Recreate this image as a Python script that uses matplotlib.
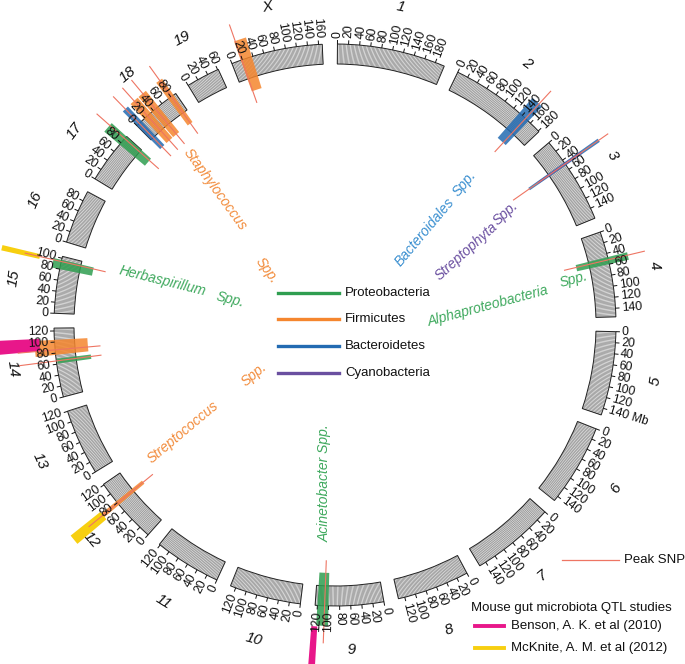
import numpy as np
import matplotlib
matplotlib.use("Agg")
import matplotlib.pyplot as plt
from matplotlib.lines import Line2D

plt.rcParams['font.family'] = ['Liberation Sans', 'DejaVu Sans']

# ---------------- data ----------------
CHROMS = ['1', '2', '3', '4', '5', '6', '7', '8', '9', '10',
          '11', '12', '13', '14', '15', '16', '17', '18', '19', 'X']
CHROM_LEN = [197.2, 181.7, 159.6, 155.6, 152.5, 149.5, 152.5, 131.7, 124.1, 130.0,
             121.8, 121.3, 120.3, 125.2, 103.5, 98.3, 95.3, 90.8, 61.3, 166.7]
TICK_STEP = 20
UNIT_CHROM = '5'
UNIT_LABEL = 'Mb'

PHYLA = ['Proteobacteria', 'Firmicutes', 'Bacteroidetes', 'Cyanobacteria']

# QTL intervals (Mb) coloured by phylum
QTL_CHROM = ['2', '3', '3', '4', '9', '12', '14', '14', '15', '17', '18', '18', '18', '18', 'X']
QTL_START = [133, 45, 46, 47, 100, 75, 77, 61, 80, 76, 0, 18, 36, 74, 17]
QTL_END = [155, 51, 50, 60, 120, 83, 104, 70, 97, 95, 12, 34, 52, 86, 38]
QTL_PHYLUM = ['Bacteroidetes', 'Bacteroidetes', 'Cyanobacteria', 'Proteobacteria',
              'Proteobacteria', 'Firmicutes', 'Firmicutes', 'Proteobacteria',
              'Proteobacteria', 'Proteobacteria', 'Bacteroidetes', 'Firmicutes',
              'Firmicutes', 'Firmicutes', 'Firmicutes']
QTL_TRACK = ['std', 'long', 'std', 'std', 'std', 'std', 'std', 'short', 'mid', 'std',
             'std', 'std', 'std', 'std', 'std']

# peak SNPs (Mb)
PEAK_CHROM = ['2', '3', '4', '9', '12', '14', '14', '15', '17', '18', '18', '18', '18', 'X']
PEAK_POS = [148, 48, 52, 107, 79, 66, 86, 94, 90, 6, 26, 45, 81, 19]
PEAK_TRACK = ['std', 'long', 'std', 'std', 'std', 'std', 'std', 'std', 'std', 'std',
              'std', 'std', 'std', 'std']

# previous mouse gut microbiota QTL studies
STUDY_NAMES = ['Benson, A. K. et al (2010)', 'McKnite, A. M. et al (2012)']
STUDY_CHROM = ['9', '14', '12', '15']
STUDY_START = [118, 86, 70, 90]
STUDY_END = [128, 107, 86, 98]
STUDY_ID = [0, 0, 1, 1]

# taxa associated with the QTLs
TAXA = ['Bacteroidales', 'Streptophyta', 'Alphaproteobacteria', 'Acinetobacter',
        'Streptococcus', 'Herbaspirillum', 'Staphylococcus']
TAXA_PHYLUM = ['Bacteroidetes', 'Cyanobacteria', 'Proteobacteria', 'Proteobacteria',
               'Firmicutes', 'Proteobacteria', 'Firmicutes']
SPP = 'Spp.'

# ---------------- style / layout ----------------
PHYLUM_COLOR = {'Proteobacteria': '#2f9e50', 'Firmicutes': '#f5862e',
                'Bacteroidetes': '#236bb2', 'Cyanobacteria': '#6a4fa0'}
TAXA_TEXT_COLOR = {'Proteobacteria': '#3fa95e', 'Firmicutes': '#f28c3c',
                   'Bacteroidetes': '#3a8fd0', 'Cyanobacteria': '#6a4fa0'}
STUDY_COLOR = ['#e8178a', '#f7cf10']
PEAK_COLOR = '#ee7563'

W, H = 685, 664
CX, CY, RMAX = 335, 325, 350
R_IN, R_OUT = 261, 281
TRACKS = {'std': (248, 301), 'long': (237, 322), 'short': (246, 280), 'mid': (248, 289)}
PEAK_TRACKS = {'std': (236, 318), 'long': (218, 333)}
STUDY_TRACKS = {('9', 0): (302, 352), ('14', 0): (296, 352), ('12', 1): (300, 338), ('15', 1): (303, 342)}
K = 0.1135      # degrees per Mb
GAP = 3.02      # degrees between chromosomes
START0 = 0.5
TEXTURE_STEP = 2.4  # Mb between drawn ideogram band lines (visual texture only)

# (theta, r, rotation, spp_theta, spp_r) for taxa labels
TAXA_LAYOUT = [(44.1, 129, 50, 42.5, 192),
               (60.7, 151, 42, 56.8, 204),
               (82.9, 154, 15, 79.3, 243),
               (183.6, 158, 90, None, None),
               (234.9, 186, 40, 238.3, 95),
               (284.3, 178, -14, 283.4, 108),
               (318.6, 181, -54, 308.6, 88)]

starts = {}
s = START0
for c, L in zip(CHROMS, CHROM_LEN):
    starts[c] = s
    s += L * K + GAP
lens = dict(zip(CHROMS, CHROM_LEN))


def th(c, pos):
    return starts[c] + pos * K


def rad(d):
    return np.deg2rad(d)


fig = plt.figure(figsize=(W / 100, H / 100), dpi=100)
ax = fig.add_axes([(CX - RMAX) / W, (H - CY - RMAX) / H, 2 * RMAX / W, 2 * RMAX / H],
                  projection='polar')
ax.set_theta_zero_location('N')
ax.set_theta_direction(-1)
ax.set_ylim(0, RMAX)
ax.set_axis_off()

# ideograms
for c in CHROMS:
    L = lens[c]
    ax.bar(rad(th(c, L / 2)), R_OUT - R_IN, width=rad(L * K), bottom=R_IN,
           color='#e4e4e4', edgecolor='none', zorder=1)
    marks = np.arange(0.9, L, TEXTURE_STEP)
    ax.vlines(rad(th(c, marks)), R_IN, R_OUT, colors='#5c5c5c', lw=0.3, zorder=1.5)
    ax.bar(rad(th(c, L / 2)), R_OUT - R_IN, width=rad(L * K), bottom=R_IN,
           color='none', edgecolor='#222222', lw=0.7, zorder=2)

# QTL bars
for c, a, b, p, t in zip(QTL_CHROM, QTL_START, QTL_END, QTL_PHYLUM, QTL_TRACK):
    r0, r1 = TRACKS[t]
    ax.bar(rad(th(c, (a + b) / 2)), r1 - r0, width=rad((b - a) * K), bottom=r0,
           color=PHYLUM_COLOR[p], alpha=0.85, edgecolor='none', zorder=3)

# peak SNP lines
for c, p, t in zip(PEAK_CHROM, PEAK_POS, PEAK_TRACK):
    r0, r1 = PEAK_TRACKS[t]
    ax.plot([rad(th(c, p))] * 2, [r0, r1], color=PEAK_COLOR, lw=0.8, zorder=4)

# previous studies
for c, a, b, i in zip(STUDY_CHROM, STUDY_START, STUDY_END, STUDY_ID):
    r0, r1 = STUDY_TRACKS[(c, i)]
    ax.bar(rad(th(c, (a + b) / 2)), r1 - r0, width=rad((b - a) * K), bottom=r0,
           color=STUDY_COLOR[i], edgecolor='none', zorder=3.5, clip_on=False)

# ticks and labels
for c in CHROMS:
    L = lens[c]
    ticks = np.arange(0, L + 0.01, TICK_STEP)
    ax.vlines(rad(th(c, ticks)), R_OUT, R_OUT + 4, colors='#111111', lw=0.7, zorder=5)
    for i, p in enumerate(ticks):
        d = th(c, p) % 360
        lab = str(int(p))
        if c == UNIT_CHROM and i == len(ticks) - 1:
            lab += ' ' + UNIT_LABEL
        if d < 180:
            rot, ha = 90 - d, 'left'
        else:
            rot, ha = 270 - d, 'right'
        ax.text(rad(d), R_OUT + 6, lab, rotation=rot, rotation_mode='anchor',
                ha=ha, va='center', fontsize=8.7, color='#111111', zorder=6)
    dm = th(c, L / 2) % 360
    rot = -dm if (dm < 90 or dm >= 270) else 180 - dm
    ax.text(rad(dm), 325, c, rotation=rot, rotation_mode='anchor', ha='center',
            va='center', fontsize=11, style='italic', color='#111111')

# taxa labels
for name, p, (t, r, rot, ts, rs) in zip(TAXA, TAXA_PHYLUM, TAXA_LAYOUT):
    col = TAXA_TEXT_COLOR[p]
    if ts is None:
        ax.text(rad(t), r, name + ' ' + SPP, rotation=rot, rotation_mode='anchor',
                ha='center', va='center', fontsize=10, style='italic', color=col)
    else:
        ax.text(rad(t), r, name, rotation=rot, rotation_mode='anchor',
                ha='center', va='center', fontsize=10, style='italic', color=col)
        ax.text(rad(ts), rs, SPP, rotation=rot, rotation_mode='anchor',
                ha='center', va='center', fontsize=10, style='italic', color=col)


def fx(x):
    return x / W


def fy(y):
    return 1 - y / H


# centre legend
for k, (p, y) in enumerate(zip(PHYLA, [293, 319, 346, 373])):
    fig.add_artist(Line2D([fx(278), fx(339)], [fy(y), fy(y)], color=PHYLUM_COLOR[p], lw=2.4))
    fig.text(fx(345), fy(y), p, ha='left', va='center', fontsize=9.5, color='#111111')

# bottom right legend
fig.add_artist(Line2D([fx(562), fx(619)], [fy(560), fy(560)], color=PEAK_COLOR, lw=0.9))
fig.text(fx(624), fy(560), 'Peak SNP', ha='left', va='center', fontsize=9.5, color='#111111')
fig.text(fx(471), fy(608), 'Mouse gut microbiota QTL studies', ha='left', va='center',
         fontsize=9.5, color='#111111')
for i, y in enumerate([626, 648]):
    fig.add_artist(Line2D([fx(475), fx(504)], [fy(y), fy(y)], color=STUDY_COLOR[i], lw=2.8))
    fig.text(fx(511), fy(y), STUDY_NAMES[i], ha='left', va='center', fontsize=9.5,
             color='#111111')

fig.savefig('out.png', dpi=100)
